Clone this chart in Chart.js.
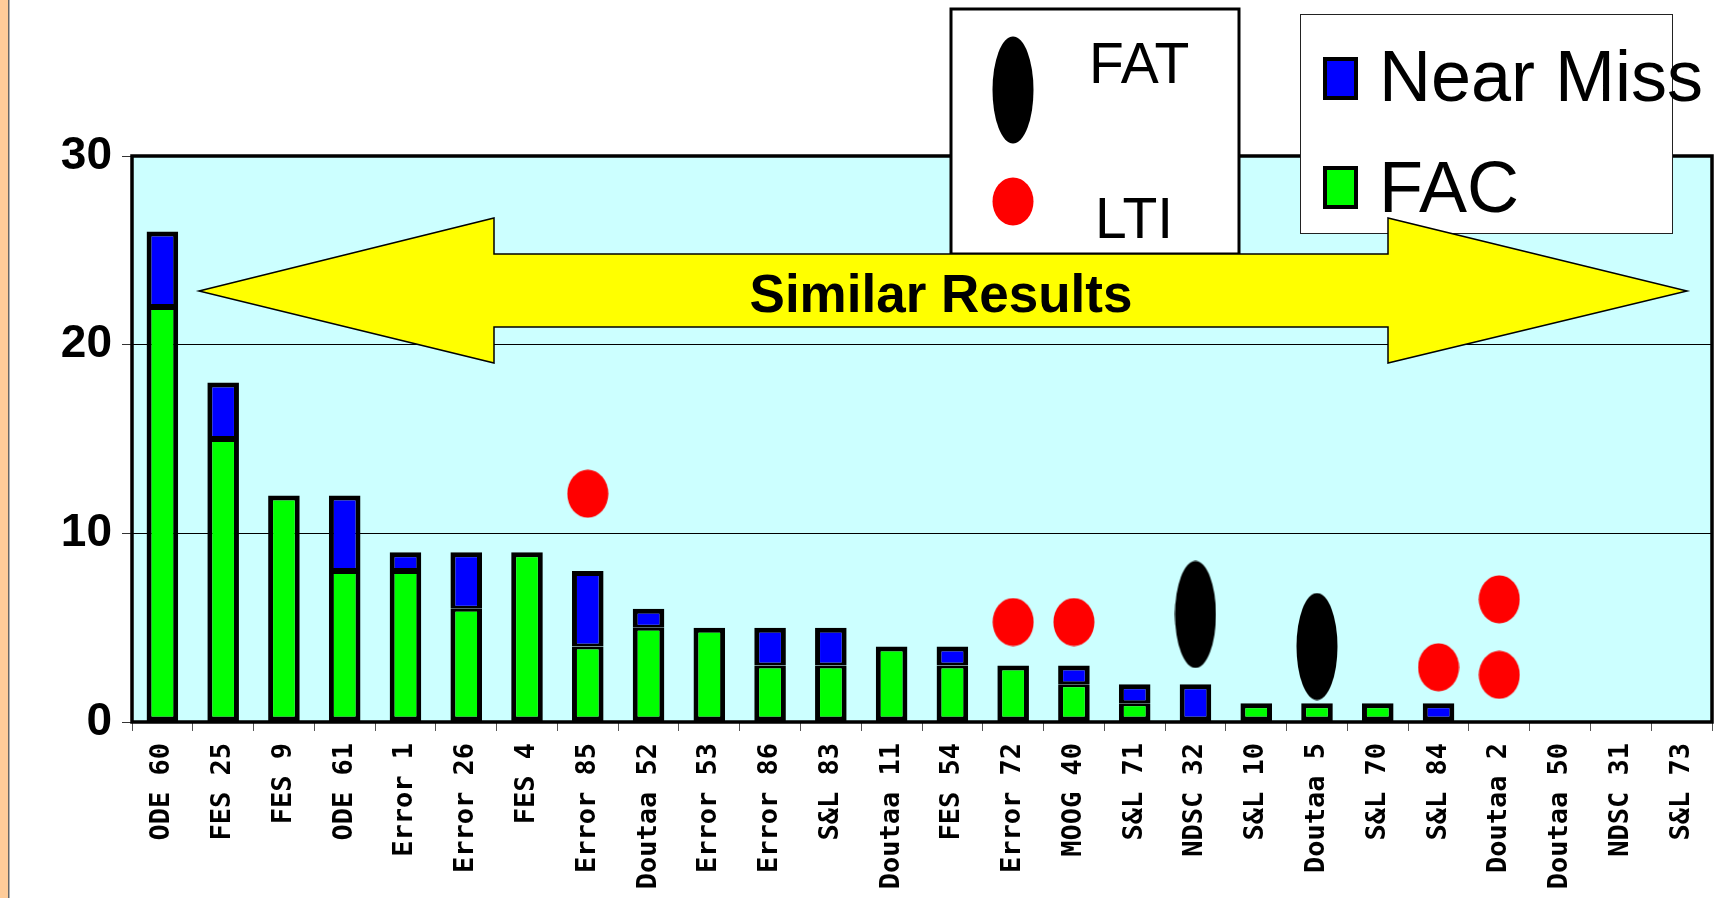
<!DOCTYPE html>
<html>
<head>
<meta charset="utf-8">
<script src="https://cdn.jsdelivr.net/npm/chart.js@4.4.1/dist/chart.umd.min.js"></script>
<style>
  body { margin: 0; background: #fff; }
  #wrap { width: 1735px; height: 898px; position: relative; }
</style>
</head>
<body>
<div id="wrap"><canvas id="incidentes"></canvas></div>
<script>
// datos
const categories = ['ODE 60', 'FES 25', 'FES 9', 'ODE 61', 'Error 1', 'Error 26', 'FES 4', 'Error 85',
    'Doutaa 52', 'Error 53', 'Error 86', 'S&L 83', 'Doutaa 11', 'FES 54', 'Error 72', 'MOOG 40',
    'S&L 71', 'NDSC 32', 'S&L 10', 'Doutaa 5', 'S&L 70', 'S&L 84', 'Doutaa 2', 'Doutaa 50', 'NDSC 31', 'S&L 73'];
const facValues      = [22, 15, 12, 8, 8, 6, 9, 4, 5, 5, 3, 3, 4, 3, 3, 2, 1, 0, 1, 1, 1, 0, 0, 0, 0, 0];
const nearMissValues = [4, 3, 0, 4, 1, 3, 0, 4, 1, 0, 2, 2, 0, 1, 0, 1, 1, 2, 0, 0, 0, 1, 0, 0, 0, 0];
const ltiCats   = ['Error 85', 'Error 72', 'MOOG 40', 'S&L 84', 'Doutaa 2', 'Doutaa 2'];
const ltiValues = [12.1, 5.3, 5.3, 2.9, 6.5, 2.5];
const fatCats   = ['NDSC 32', 'Doutaa 5'];
const fatValues = [5.7, 4.0];
const yTicks = [0, 10, 20, 30];
const seriesNames = ['FAC', 'Near Miss'];
const markerNames = ['FAT', 'LTI'];

const GREEN = '#00ff00', BLUE = '#0000ff', RED = '#ff0000';
const BORDE = 5;

// elipses para los marcadores
function elipse(w, h, color) {
    const c = document.createElement('canvas');
    c.width = w; c.height = h;
    const g = c.getContext('2d');
    g.fillStyle = color;
    g.beginPath();
    g.ellipse(w / 2, h / 2, w / 2 - 0.5, h / 2 - 0.5, 0, 0, Math.PI * 2);
    g.fill();
    return c;
}
const ltiImg = elipse(42, 49, RED);
const fatImg = elipse(42, 108, '#000');

const sinCero = arr => arr.map(v => v === 0 ? null : v);

// el borde entre los dos tramos apilados va una sola vez
const bordeFac = c => ({ left: BORDE, right: BORDE, bottom: BORDE,
    top: nearMissValues[c.dataIndex] > 0 ? 3 : BORDE });
const bordeNm = c => ({ left: BORDE, right: BORDE, top: BORDE,
    bottom: facValues[c.dataIndex] > 0 ? 3 : BORDE });

// fondo, borde y anotaciones
const decoracion = {
    id: 'decoracion',
    beforeDraw(chart) {
        const ctx = chart.ctx, a = chart.chartArea;
        ctx.save();
        ctx.fillStyle = '#ffcc99';
        ctx.fillRect(0, 0, 8, chart.height);
        ctx.fillStyle = '#666';
        ctx.fillRect(8, 0, 1.5, chart.height);
        ctx.fillStyle = '#ccffff';
        ctx.fillRect(a.left, a.top, a.right - a.left, a.bottom - a.top);
        ctx.restore();
    },
    afterDatasetsDraw(chart) {
        const ctx = chart.ctx, a = chart.chartArea;
        ctx.save();
        ctx.strokeStyle = '#000';
        ctx.lineWidth = 3.5;
        ctx.strokeRect(a.left, a.top, a.right - a.left, a.bottom - a.top);
        ctx.restore();
    },
    afterDraw(chart) {
        const ctx = chart.ctx;
        ctx.save();

        // caja FAT / LTI
        ctx.fillStyle = '#fff';
        ctx.fillRect(951, 9, 288, 245);
        ctx.strokeStyle = '#000';
        ctx.lineWidth = 3;
        ctx.strokeRect(951, 9, 288, 245);
        ctx.drawImage(fatImg, 1013 - 21, 90 - 54);
        ctx.drawImage(ltiImg, 1013 - 21, 202 - 25);
        ctx.fillStyle = '#000';
        ctx.font = '57px "Liberation Sans", Arial, sans-serif';
        ctx.textBaseline = 'alphabetic';
        ctx.fillText(markerNames[0], 1089, 83);
        ctx.fillText(markerNames[1], 1095, 238);

        // caja Near Miss / FAC
        ctx.fillStyle = '#fff';
        ctx.fillRect(1300, 14, 372, 219);
        ctx.strokeStyle = '#222';
        ctx.lineWidth = 1;
        ctx.strokeRect(1300.5, 14.5, 372, 219);
        ctx.lineWidth = 4;
        ctx.strokeStyle = '#000';
        ctx.fillStyle = BLUE;
        ctx.fillRect(1323, 57, 35, 43);
        ctx.strokeRect(1325, 59, 31, 39);
        ctx.fillStyle = GREEN;
        ctx.fillRect(1323, 166, 35, 43);
        ctx.strokeRect(1325, 168, 31, 39);
        ctx.fillStyle = '#000';
        ctx.font = '72px "Liberation Sans", Arial, sans-serif';
        ctx.fillText(seriesNames[1], 1379, 101);
        ctx.fillText(seriesNames[0], 1379, 212);

        // flecha doble amarilla
        ctx.beginPath();
        ctx.moveTo(199, 291);
        ctx.lineTo(494, 218);
        ctx.lineTo(494, 254);
        ctx.lineTo(1388, 254);
        ctx.lineTo(1388, 218);
        ctx.lineTo(1687, 291);
        ctx.lineTo(1388, 363);
        ctx.lineTo(1388, 327);
        ctx.lineTo(494, 327);
        ctx.lineTo(494, 363);
        ctx.closePath();
        ctx.fillStyle = '#ffff00';
        ctx.fill();
        ctx.lineWidth = 1.5;
        ctx.strokeStyle = '#000';
        ctx.stroke();

        ctx.fillStyle = '#000';
        ctx.font = 'bold 53px "Liberation Sans", Arial, sans-serif';
        ctx.textAlign = 'center';
        ctx.fillText('Similar Results', 941, 312);
        ctx.restore();
    }
};

var ctx = document.getElementById('incidentes').getContext('2d');

var grafico = new Chart(ctx, {
    type: 'bar',
    data: {
        labels: categories,
        datasets: [{
            label: seriesNames[0],
            data: sinCero(facValues),
            backgroundColor: GREEN,
            borderColor: '#000',
            borderWidth: bordeFac,
            barPercentage: 0.52,
            categoryPercentage: 1,
            borderSkipped: false,
            inflateAmount: 0
        }, {
            label: seriesNames[1],
            data: sinCero(nearMissValues),
            backgroundColor: BLUE,
            borderColor: '#000',
            borderWidth: bordeNm,
            barPercentage: 0.52,
            categoryPercentage: 1,
            borderSkipped: false,
            inflateAmount: 0
        }, {
            type: 'line',
            label: markerNames[1],
            data: ltiCats.map((c, i) => ({ x: c, y: ltiValues[i] })),
            yAxisID: 'y2',
            showLine: false,
            pointStyle: ltiImg
        }, {
            type: 'line',
            label: markerNames[0],
            data: fatCats.map((c, i) => ({ x: c, y: fatValues[i] })),
            yAxisID: 'y2',
            showLine: false,
            pointStyle: fatImg
        }]
    },
    options: {
        responsive: true,
        maintainAspectRatio: false,
        animation: false,
        events: [],
        layout: { padding: { top: 156, right: 23, left: 0, bottom: 0 } },
        plugins: {
            legend: { display: false },
            tooltip: { enabled: false }
        },
        scales: {
            x: {
                stacked: true,
                afterFit: s => { s.height = 176; },
                border: { display: false },
                grid: {
                    offset: true,
                    drawOnChartArea: false,
                    drawTicks: true,
                    tickLength: 9,
                    tickColor: '#555'
                },
                ticks: {
                    autoSkip: false,
                    minRotation: 90,
                    maxRotation: 90,
                    padding: 12,
                    color: '#000',
                    font: { family: '"DejaVu Sans Mono", monospace', weight: 'bold', size: 27 }
                }
            },
            y: {
                stacked: true,
                min: yTicks[0],
                max: yTicks[yTicks.length - 1],
                afterFit: s => { s.width = 132; },
                afterBuildTicks: s => { s.ticks = yTicks.map(v => ({ value: v })); },
                border: { display: false },
                grid: {
                    color: '#000',
                    lineWidth: 1,
                    tickLength: 10,
                    tickColor: '#333'
                },
                ticks: {
                    padding: 10,
                    color: '#000',
                    font: { family: '"Liberation Sans", Arial, sans-serif', weight: 'bold', size: 46 }
                }
            },
            y2: {
                display: false,
                min: yTicks[0],
                max: yTicks[yTicks.length - 1]
            }
        }
    },
    plugins: [decoracion]
});
</script>
</body>
</html>
